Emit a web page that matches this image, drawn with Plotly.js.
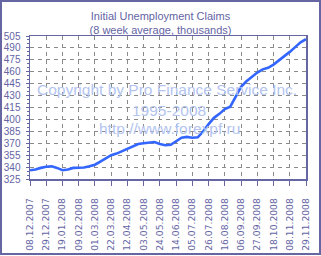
<!DOCTYPE html>
<html>
<head>
<meta charset="utf-8">
<script src="https://cdn.plot.ly/plotly-3.0.1.min.js"></script>
<style>
  html, body { margin: 0; padding: 0; background: #ffffff; }
  #wrap { position: relative; width: 321px; height: 256px; }
  #chart { position: absolute; left: 0; top: 0; width: 321px; height: 256px; }
  #frame { position: absolute; left: 0; top: 0; width: 321px; height: 255px;
           box-sizing: border-box; border: 2px solid #6666a2; pointer-events: none; }
</style>
</head>
<body>
<div id="wrap">
  <div id="chart"></div>
  <div id="frame"></div>
</div>
<script>
// Weekly dates (Saturdays), 8-week average of initial claims, thousands
const startDate = '2007-12-08';
const weeks = 52;
const claims = [
  336, 337, 339, 340.5, 341, 339, 336, 337, 339, 339.5,
  339.5, 341, 343, 347, 351, 355, 357, 360, 364, 367,
  369, 370, 371, 371.5, 369, 367.5, 368, 373, 377, 378,
  377, 377.5, 385, 394, 402, 407, 413, 416, 428, 441,
  448, 454, 459, 463, 465, 469, 474, 479, 485, 491,
  497, 501
];
const titleLines = ['Initial Unemployment Claims', '(8 week average, thousands)'];
const watermark = ['Copyright by Pro Finance Service Inc.', '1995-2008', 'http://www.forexpf.ru'];
const yRange = [325, 505];
const xRange = ['2007-12-08', '2008-11-29'];

const dates = [];
const d0 = new Date(startDate + 'T00:00:00Z');
for (let i = 0; i < weeks; i++) {
  const d = new Date(d0.getTime() + i * 7 * 86400000);
  dates.push(d.toISOString().slice(0, 10));
}

const textColor = '#6464a4';
const axisColor = '#6666a2';
const gridColor = '#8a8a8a';

const trace = {
  x: dates,
  y: claims,
  type: 'scatter',
  mode: 'lines',
  line: { color: '#3366ff', width: 2.6 },
  hoverinfo: 'skip'
};

const wmFont = { family: 'Liberation Sans, Arial, sans-serif', size: 15.5, color: '#b3c4ef' };

const layout = {
  width: 321,
  height: 256,
  margin: { l: 30, r: 15, t: 36, b: 77 },
  paper_bgcolor: '#ffffff',
  plot_bgcolor: '#ffffff',
  showlegend: false,
  title: {
    text: titleLines.join('<br>'),
    font: { family: 'Liberation Sans, Arial, sans-serif', size: 11, color: textColor },
    x: 0.5, xref: 'container', xanchor: 'center',
    y: 0.922, yref: 'container', yanchor: 'middle'
  },
  xaxis: {
    type: 'date',
    range: xRange,
    tick0: startDate,
    dtick: 21 * 86400000,
    tickformat: '%d.%m.%Y',
    tickangle: -90,
    tickfont: { family: 'DejaVu Sans, sans-serif', size: 9.2, color: textColor },
    ticks: 'outside', ticklen: 5, tickcolor: axisColor, tickwidth: 1,
    ticklabelstandoff: 9,
    showline: true, linecolor: axisColor, linewidth: 1.5, mirror: true,
    showgrid: true, gridcolor: gridColor, gridwidth: 1, griddash: '4px,4px',
    zeroline: false, fixedrange: true
  },
  yaxis: {
    range: yRange,
    tick0: 325,
    dtick: 15,
    tickfont: { family: 'Liberation Sans Narrow, Liberation Sans, sans-serif', size: 10, color: textColor },
    ticks: 'outside', ticklen: 3, tickcolor: axisColor, tickwidth: 1,
    minor: { dtick: 5, ticks: 'outside', ticklen: 2, tickcolor: axisColor, showgrid: false },
    ticklabelstandoff: 3,
    showline: true, linecolor: axisColor, linewidth: 1.5, mirror: true,
    showgrid: true, gridcolor: gridColor, gridwidth: 1, griddash: '4px,4px',
    zeroline: false, fixedrange: true
  },
  annotations: [
    { text: watermark[0], xref: 'paper', yref: 'paper', x: 0.498, y: 0.627, showarrow: false, font: wmFont, xanchor: 'center', yanchor: 'middle' },
    { text: watermark[1], xref: 'paper', yref: 'paper', x: 0.504, y: 0.482, showarrow: false, font: wmFont, xanchor: 'center', yanchor: 'middle' },
    { text: watermark[2], xref: 'paper', yref: 'paper', x: 0.504, y: 0.350, showarrow: false, font: wmFont, xanchor: 'center', yanchor: 'middle' }
  ]
};

Plotly.newPlot('chart', [trace], layout, { displayModeBar: false, staticPlot: true });
</script>
</body>
</html>
